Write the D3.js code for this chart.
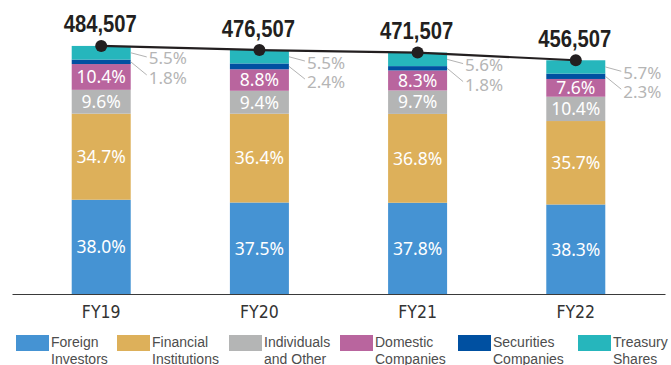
<!DOCTYPE html>
<html>
<head>
<meta charset="utf-8">
<script src="https://cdn.jsdelivr.net/npm/d3@7"></script>
<style>
  html, body { margin: 0; padding: 0; background: #fff; }
  svg { display: block; }
</style>
</head>
<body>
<svg id="chart" width="671" height="365"></svg>
<script>
// Shareholder composition by fiscal year
const years = ["FY19", "FY20", "FY21", "FY22"];
const totals = [484507, 476507, 471507, 456507];
const seriesNames = [
  ["Foreign", "Investors"],
  ["Financial", "Institutions"],
  ["Individuals", "and Other"],
  ["Domestic", "Companies"],
  ["Securities", "Companies"],
  ["Treasury", "Shares"]
];
// share (%) of each holder type, bottom to top
const foreignInvestors = [38.0, 37.5, 37.8, 38.3];
const financialInstitutions = [34.7, 36.4, 36.8, 35.7];
const individualsOther = [9.6, 9.4, 9.7, 10.4];
const domesticCompanies = [10.4, 8.8, 8.3, 7.6];
const securitiesCompanies = [1.8, 2.4, 1.8, 2.3];
const treasuryShares = [5.5, 5.5, 5.6, 5.7];

const colors = ["#4593d3", "#ddb05a", "#b4b5b5", "#b9659e", "#0050a1", "#26b6bc"];

const series = [foreignInvestors, financialInstitutions, individualsOther,
                domesticCompanies, securitiesCompanies, treasuryShares];

const svg = d3.select("#chart");

const baseY = 294;
const x = d3.scaleBand().domain(years).range([12, 665]).paddingInner(0.627).paddingOuter(0.3775);
const y = d3.scaleLinear().domain([0, 500000]).range([baseY, baseY - 256]);

// stacked segments: each segment = total * share
const segs = [];
years.forEach((yr, i) => {
  let acc = 0;
  series.forEach((s, k) => {
    const v = totals[i] * s[i] / 100;
    segs.push({ yr, i, k, pct: s[i], y0: acc, y1: acc + v });
    acc += v;
  });
});

svg.append("g").selectAll("rect").data(segs).join("rect")
  .attr("x", d => x(d.yr))
  .attr("width", x.bandwidth())
  .attr("y", d => y(d.y1))
  .attr("height", d => y(d.y0) - y(d.y1))
  .attr("fill", d => colors[d.k]);

// labels inside the four large segments
svg.append("g").selectAll("text").data(segs.filter(d => d.k < 4)).join("text")
  .attr("x", d => x(d.yr) + x.bandwidth() / 2)
  .attr("y", d => (y(d.y0) + y(d.y1)) / 2)
  .attr("dy", "0.36em")
  .attr("text-anchor", "middle")
  .attr("fill", "#fff")
  .style("font-family", "'Noto Sans', 'Open Sans', sans-serif")
  .style("font-size", "17.5px")
  .text(d => d.pct.toFixed(1) + "%");

// callouts for the two thin top segments
const small = segs.filter(d => d.k >= 4);
const callout = svg.append("g");
small.forEach(d => {
  const top = y(totals[d.i]);
  const right = x(d.yr) + x.bandwidth();
  const slot = d.k === 5 ? 0 : 1;
  const midY = (y(d.y0) + y(d.y1)) / 2;
  callout.append("line")
    .attr("x1", right).attr("y1", midY)
    .attr("x2", right + 16).attr("y2", top + (slot === 0 ? 11 : 29))
    .attr("stroke", "#b3b3b3").attr("stroke-width", 1);
  callout.append("text")
    .attr("x", right + 18)
    .attr("y", top + (slot === 0 ? 18.5 : 38))
    .attr("fill", "#b5b5b5")
    .style("font-family", "'Noto Sans', 'Open Sans', sans-serif")
    .style("font-size", "17px")
    .text(d.pct.toFixed(1) + "%");
});

// x axis
const axis = svg.append("g")
  .attr("transform", `translate(0,${baseY})`)
  .call(d3.axisBottom(x).tickSize(0).tickSizeOuter(0).tickPadding(0));
axis.select(".domain").attr("stroke", "#3a3a3a").attr("stroke-width", 1);
axis.selectAll(".tick text")
  .attr("y", 24).attr("dy", 0)
  .attr("fill", "#333")
  .style("font-family", "'DejaVu Sans Condensed', 'Liberation Sans', sans-serif")
  .style("font-size", "17.5px");

// total shares line
const pts = years.map((yr, i) => [x(yr) + x.bandwidth() / 2, y(totals[i])]);
svg.append("path")
  .attr("d", d3.line()(pts))
  .attr("fill", "none")
  .attr("stroke", "#231f20")
  .attr("stroke-width", 2.2);
svg.append("g").selectAll("circle").data(pts).join("circle")
  .attr("cx", d => d[0]).attr("cy", d => d[1]).attr("r", 6)
  .attr("fill", "#231f20");

// total labels, condensed horizontally
svg.append("g").selectAll("text").data(pts).join("text")
  .attr("transform", d => `translate(${d[0] - 1},${d[1] - 13.5}) scale(0.88,1)`)
  .attr("text-anchor", "middle")
  .attr("fill", "#231f20")
  .style("font-family", "'Liberation Sans', Arial, sans-serif")
  .style("font-weight", "bold")
  .style("font-size", "23px")
  .text((d, i) => d3.format(",")(totals[i]));

// legend
const legendX = [16, 117, 229, 340, 458, 578];
const legend = svg.append("g").selectAll("g").data(seriesNames).join("g")
  .attr("transform", (d, i) => `translate(${legendX[i]},335)`);
legend.append("rect")
  .attr("width", 33).attr("height", 16)
  .attr("fill", (d, i) => colors[i]);
legend.append("text")
  .attr("x", 35)
  .attr("fill", "#4d4d4d")
  .style("font-family", "'Liberation Sans', Arial, sans-serif")
  .style("font-size", "14px")
  .selectAll("tspan").data(d => d).join("tspan")
  .attr("x", 35)
  .attr("y", (d, j) => 12 + j * 16.5)
  .text(d => d);
</script>
</body>
</html>
